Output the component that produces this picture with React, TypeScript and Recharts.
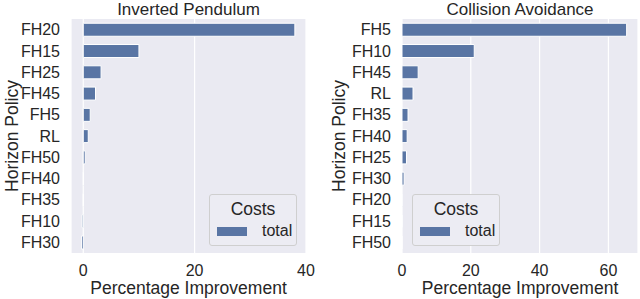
import React from 'react';
import { BarChart, Bar, XAxis, YAxis, CartesianGrid } from 'recharts';

const pendulumPolicies = ['FH20', 'FH15', 'FH25', 'FH45', 'FH5', 'RL', 'FH50', 'FH40', 'FH35', 'FH10', 'FH30'];
const pendulumTotal = [38.0, 10.0, 3.2, 2.2, 1.25, 0.9, 0.35, 0.05, 0.02, -0.2, -0.3];

const collisionPolicies = ['FH5', 'FH10', 'FH45', 'RL', 'FH35', 'FH40', 'FH25', 'FH30', 'FH20', 'FH15', 'FH50'];
const collisionTotal = [65.3, 21.0, 4.7, 3.2, 1.75, 1.5, 1.3, 0.6, 0.05, 0.02, 0.01];

const pendulumTicks = [0, 20, 40];
const collisionTicks = [0, 20, 40, 60];

const BAR = '#5975A4';
const BG = '#EAEAF2';
const TEXT = '#262626';
const FONT = '"Liberation Sans", Arial, sans-serif';

const pendulumData = pendulumPolicies.map((p, i) => ({ policy: p, total: pendulumTotal[i] }));
const collisionData = collisionPolicies.map((p, i) => ({ policy: p, total: collisionTotal[i] }));

const tickStyle = { fontSize: 16, fill: TEXT, fontFamily: FONT };

function Panel(props: {
  title: string;
  data: { policy: string; total: number }[];
  domain: [number, number];
  ticks: number[];
  left: number;
  yWidth: number;
  right: number;
  legendLeft: number;
  labelX: number;
}) {
  const { title, data, domain, ticks, left, yWidth, right, legendLeft, labelX } = props;
  const plotLeft = yWidth;
  const plotRight = 320 - right;
  const center = (plotLeft + plotRight) / 2;
  return (
    <div style={{ position: 'absolute', left, top: 0, width: 320, height: 299, fontFamily: FONT, color: TEXT }}>
      <BarChart
        width={320}
        height={299}
        data={data}
        layout="vertical"
        margin={{ top: 19, right, bottom: 0, left: 0 }}
        barCategoryGap="20%"
      >
        <CartesianGrid horizontal={false} stroke="#ffffff" strokeWidth={1.2} fill={BG} />
        <XAxis
          type="number"
          domain={domain}
          ticks={ticks}
          allowDataOverflow
          height={46}
          axisLine={false}
          tickLine={false}
          tickSize={0}
          tickMargin={12}
          tick={tickStyle}
        />
        <YAxis
          type="category"
          dataKey="policy"
          width={yWidth}
          axisLine={false}
          tickLine={false}
          tickSize={0}
          tickMargin={11}
          tick={tickStyle}
          interval={0}
        />
        <Bar dataKey="total" fill={BAR} stroke="#ffffff" strokeWidth={1} isAnimationActive={false} />
      </BarChart>
      <div
        style={{
          position: 'absolute',
          left: center - 100,
          width: 200,
          top: 1.5,
          height: 16,
          lineHeight: '16px',
          textAlign: 'center',
          fontSize: 17,
          whiteSpace: 'nowrap',
        }}
      >
        {title}
      </div>
      <div style={{ position: 'absolute', left: center - 110, width: 220, top: 278, textAlign: 'center', fontSize: 17.5, whiteSpace: 'nowrap' }}>
        Percentage Improvement
      </div>
      <div
        style={{
          position: 'absolute',
          left: labelX - 70,
          top: 136 - 10,
          width: 140,
          height: 20,
          lineHeight: '20px',
          textAlign: 'center',
          fontSize: 17.5,
          transform: 'rotate(-90deg)',
          whiteSpace: 'nowrap',
        }}
      >
        Horizon Policy
      </div>
      <div
        style={{
          position: 'absolute',
          left: legendLeft,
          top: 194,
          width: 88,
          height: 52,
          boxSizing: 'border-box',
          border: '1px solid #cfcfcf',
          borderRadius: 3,
          background: '#ECECF3',
        }}
      >
        <div style={{ position: 'absolute', left: 0, width: 86, top: 4, textAlign: 'center', fontSize: 17.5 }}>Costs</div>
        <div style={{ position: 'absolute', left: 7, top: 32, width: 30, height: 9, background: BAR }} />
        <div style={{ position: 'absolute', left: 52, top: 27, fontSize: 16 }}>total</div>
      </div>
    </div>
  );
}

export default function App() {
  return (
    <div style={{ position: 'absolute', left: 0, top: 0, width: 640, height: 299, background: '#ffffff' }}>
      <Panel
        title="Inverted Pendulum"
        data={pendulumData}
        domain={[-2.2, 40]}
        ticks={pendulumTicks}
        left={0}
        yWidth={71}
        right={14}
        legendLeft={209}
        labelX={12}
      />
      <Panel
        title="Collision Avoidance"
        data={collisionData}
        domain={[0, 68.6]}
        ticks={collisionTicks}
        left={320}
        yWidth={82}
        right={2}
        legendLeft={92}
        labelX={19}
      />
    </div>
  );
}
